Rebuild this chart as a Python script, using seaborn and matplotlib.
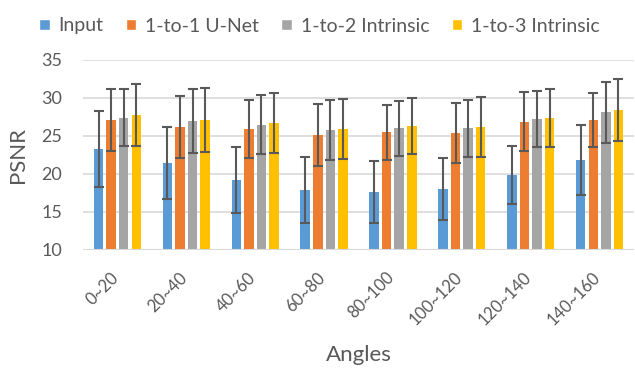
import numpy as np
import pandas as pd
import matplotlib
matplotlib.use("Agg")
import matplotlib.pyplot as plt
import matplotlib.transforms as mtransforms
from matplotlib.patches import Patch
import seaborn as sns

# ── data ──────────────────────────────────────────────────────
categories = ["0~20", "20~40", "40~60", "60~80", "80~100", "100~120", "120~140", "140~160"]
series = ["Input", "1-to-1 U-Net", "1-to-2 Intrinsic", "1-to-3 Intrinsic"]

input_mean = [23.3, 21.4, 19.2, 17.9, 17.6, 18.0, 19.9, 21.8]
input_err = [4.95, 4.75, 4.35, 4.4, 4.1, 4.05, 3.85, 4.6]
unet_mean = [27.1, 26.2, 25.9, 25.1, 25.5, 25.4, 26.9, 27.1]
unet_err = [4.05, 4.05, 3.85, 4.05, 3.6, 3.9, 3.85, 3.6]
intr2_mean = [27.4, 27.0, 26.5, 25.8, 26.0, 26.0, 27.2, 28.1]
intr2_err = [3.75, 4.2, 3.85, 3.9, 3.65, 3.8, 3.7, 4.0]
intr3_mean = [27.8, 27.1, 26.7, 25.9, 26.3, 26.2, 27.4, 28.4]
intr3_err = [4.05, 4.2, 4.0, 3.95, 3.65, 3.9, 3.8, 4.05]

COLORS = ["#5B9BD5", "#ED7D31", "#A5A5A5", "#FFC000"]
TEXT = "#595959"

means = [input_mean, unet_mean, intr2_mean, intr3_mean]
errs = [input_err, unet_err, intr2_err, intr3_err]

df = pd.DataFrame({
    "angle": categories * len(series),
    "series": np.repeat(series, len(categories)),
    "psnr": np.concatenate(means),
})

sns.set_theme(style="white")
plt.rcParams["font.family"] = ["Lato", "DejaVu Sans"]

fig = plt.figure(figsize=(6.35, 3.68), dpi=100)
ax = fig.add_axes([83 / 635, 1 - 250 / 368, 551 / 635, 190 / 368])

sns.barplot(data=df, x="angle", y="psnr", hue="series", order=categories,
            hue_order=series, palette=COLORS, width=0.73, gap=0.24,
            linewidth=0, saturation=1, legend=False, ax=ax)

# error bars at the centres of the drawn bars
for cont, err in zip(ax.containers, errs):
    xs = [p.get_x() + p.get_width() / 2 for p in cont.patches]
    ys = [p.get_height() for p in cont.patches]
    ax.errorbar(xs, ys, yerr=err, fmt="none", ecolor=TEXT, elinewidth=1.5,
                capsize=3.3, capthick=1.5, zorder=5)

ax.set_ylim(10, 35)
ax.set_yticks(range(10, 36, 5))
ax.set_xlim(-0.5, len(categories) - 0.5)
ax.yaxis.grid(True, color="#D9D9D9", linewidth=1.2)
ax.set_axisbelow(True)
for s in ["top", "right", "left", "bottom"]:
    ax.spines[s].set_visible(False)
ax.axhline(10, color="#D9D9D9", linewidth=1.5, zorder=1)

ax.tick_params(axis="y", length=0, pad=15, labelsize=13, labelcolor=TEXT)
ax.tick_params(axis="x", length=0, pad=14, labelsize=12, labelcolor=TEXT)
shift = mtransforms.ScaledTranslation(0.04, 0, fig.dpi_scale_trans)
for lbl in ax.get_xticklabels():
    lbl.set_rotation(45)
    lbl.set_ha("right")
    lbl.set_va("top")
    lbl.set_transform(lbl.get_transform() + shift)

ax.set_ylabel("PSNR", fontsize=16, color=TEXT)
ax.set_xlabel("Angles", fontsize=16, color=TEXT)
ax.yaxis.set_label_coords(-0.1, 0.5)
ax.xaxis.set_label_coords(0.5, -0.5)

handles = [Patch(facecolor=c, label=s) for c, s in zip(COLORS, series)]
leg = fig.legend(handles=handles, loc="upper center", bbox_to_anchor=(0.503, 1.0),
                 ncol=4, frameon=False, fontsize=14, handlelength=0.55,
                 handleheight=0.55, handletextpad=0.45, columnspacing=1.15)
for t in leg.get_texts():
    t.set_color(TEXT)

fig.savefig("out.png", dpi=100)
